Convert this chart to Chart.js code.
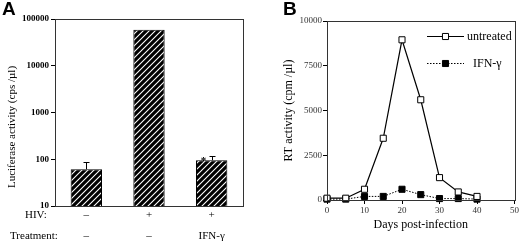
<!DOCTYPE html>
<html>
<head>
<meta charset="utf-8">
<script src="https://cdn.jsdelivr.net/npm/chart.js@4/dist/chart.umd.min.js"></script>
<style>
  body { margin: 0; background: #fff; }
  #wrap { position: relative; width: 520px; height: 245px; overflow: hidden; }
  .panel { position: absolute; top: 0; width: 260px; height: 245px; }
  .tag { position: absolute; font: bold 19px "Liberation Sans", Arial, sans-serif; color: #000; }
</style>
</head>
<body>
<div id="wrap">
  <div class="panel" style="left:0"><canvas id="chartA" width="260" height="245"></canvas></div>
  <div class="panel" style="left:260px"><canvas id="chartB" width="260" height="245"></canvas></div>
  <div class="tag" style="left:2px;top:-2px">A</div>
  <div class="tag" style="left:283px;top:-2px">B</div>
</div>
<script>
// Panel A data
const groupsHIV = ["–", "+", "+"];
const groupsTreatment = ["–", "–", "IFN-γ"];
const luciferase = [61, 59000, 95];
const luciferaseErr = [86, 0, 116];
const luciferaseTicks = [10, 100, 1000, 10000, 100000];

// Panel B data
const days = [0, 5, 10, 15, 20, 25, 30, 35, 40];
const rtUntreated = [100, 100, 600, 3450, 8950, 5600, 1250, 450, 200];
const rtIFN = [50, 50, 200, 200, 600, 300, 80, 80, 50];
const rtTicks = [0, 2500, 5000, 7500, 10000];
const dayTicks = [0, 10, 20, 30, 40, 50];

const serif = "'Liberation Serif', 'Times New Roman', serif";
Chart.defaults.font.family = serif;
Chart.defaults.color = "#000";
Chart.defaults.animation = false;

function hatch() {
  const c = document.createElement("canvas");
  c.width = 6; c.height = 6;
  const g = c.getContext("2d");
  g.fillStyle = "#000";
  g.fillRect(0, 0, 6, 6);
  g.strokeStyle = "#fff";
  g.lineWidth = 1.1;
  g.beginPath();
  g.moveTo(-1, 7); g.lineTo(7, -1);
  g.moveTo(-1, 1); g.lineTo(1, -1);
  g.moveTo(5, 7); g.lineTo(7, 5);
  g.stroke();
  return g.createPattern(c, "repeat");
}

const boxPlugin = {
  id: "box",
  afterDraw(chart) {
    const a = chart.chartArea, ctx = chart.ctx;
    ctx.save();
    ctx.strokeStyle = "#333";
    ctx.lineWidth = 1;
    ctx.strokeRect(Math.round(a.left) + 0.5, Math.round(a.top) + 0.5, Math.round(a.right - a.left), Math.round(a.bottom - a.top));
    ctx.restore();
  }
};

const errPlugin = {
  id: "errbars",
  afterDatasetsDraw(chart) {
    const ctx = chart.ctx, meta = chart.getDatasetMeta(0), y = chart.scales.y, x = chart.scales.x;
    ctx.save();
    ctx.strokeStyle = "#000";
    ctx.lineWidth = 1;
    meta.data.forEach((bar, i) => {
      if (!luciferaseErr[i]) return;
      const top = Math.round(y.getPixelForValue(luciferaseErr[i])) + 0.5;
      const bx = Math.round(bar.x) + 0.5;
      ctx.beginPath();
      ctx.moveTo(bx, bar.y); ctx.lineTo(bx, top);
      ctx.moveTo(bx - 3, top); ctx.lineTo(bx + 3, top);
      ctx.stroke();
      if (i === 2) {
        ctx.font = "bold 11px " + serif;
        ctx.textAlign = "center";
        ctx.textBaseline = "middle";
        ctx.fillStyle = "#000";
        ctx.fillText("*", bx - 9, top + 5);
      }
    });
    // category rows below the axis
    ctx.font = "11px " + serif;
    ctx.textBaseline = "middle";
    ctx.fillStyle = "#000";
    ctx.textAlign = "left";
    ctx.fillText("HIV:", 25, 215);
    ctx.fillText("Treatment:", 10, 236);
    ctx.textAlign = "center";
    groupsHIV.forEach((t, i) => ctx.fillText(t, x.getPixelForValue(i), 215));
    groupsTreatment.forEach((t, i) => ctx.fillText(t, x.getPixelForValue(i), 236));
    // y axis title (sits a little below the axis centre in the original)
    ctx.translate(12, 127);
    ctx.rotate(-Math.PI / 2);
    ctx.fillText("Luciferase activity (cps /µl)", 0, 0);
    ctx.restore();
  }
};

new Chart(document.getElementById("chartA"), {
  type: "bar",
  data: {
    labels: groupsHIV.map((h, i) => h + " " + groupsTreatment[i]),
    datasets: [{
      data: luciferase,
      backgroundColor: hatch(),
      borderColor: "#000",
      borderWidth: 1,
      barPercentage: 0.5,
      categoryPercentage: 1
    }]
  },
  options: {
    responsive: false,
    layout: { padding: { top: 19, right: 17, left: 0, bottom: 0 } },
    plugins: { legend: { display: false }, tooltip: { enabled: false } },
    scales: {
      x: {
        grid: { display: false },
        border: { display: false },
        ticks: { display: false },
        afterFit(s) { s.height = 39; }
      },
      y: {
        type: "logarithmic",
        min: 10,
        max: 100000,
        afterBuildTicks(s) { s.ticks = luciferaseTicks.map(v => ({ value: v })); },
        grid: { drawOnChartArea: false, tickLength: 4, color: "#000" },
        border: { display: false },
        ticks: { font: { size: 9, weight: "bold" }, padding: 2, callback: v => String(v) },
        afterFit(s) { s.width = 55; }
      }
    }
  },
  plugins: [boxPlugin, errPlugin]
});

const legendPlugin = {
  id: "legendB",
  afterDraw(chart) {
    const ctx = chart.ctx;
    ctx.save();
    chart.data.datasets.forEach((ds, i) => {
      const y = Math.round(36 + i * 27) + 0.5;
      ctx.strokeStyle = "#000";
      ctx.lineWidth = ds.borderWidth;
      ctx.setLineDash(ds.borderDash || []);
      ctx.beginPath();
      ctx.moveTo(167, y); ctx.lineTo(204, y);
      ctx.stroke();
      ctx.setLineDash([]);
      ctx.fillStyle = ds.pointBackgroundColor;
      ctx.strokeStyle = "#000";
      ctx.lineWidth = 1;
      Chart.helpers.drawPoint(ctx, { pointStyle: "rect", radius: ds.pointRadius, borderWidth: 1 }, 185.5, y);
      ctx.font = "12px " + serif;
      ctx.fillStyle = "#000";
      ctx.textBaseline = "middle";
      ctx.fillText(ds.label, i === 0 ? 207 : 213, y);
    });
    ctx.restore();
  }
};

new Chart(document.getElementById("chartB"), {
  type: "line",
  data: {
    datasets: [
      {
        label: "untreated",
        data: days.map((d, i) => ({ x: d, y: rtUntreated[i] })),
        borderColor: "#000",
        borderWidth: 1.2,
        pointStyle: "rect",
        pointRadius: 4.3,
        pointBorderWidth: 1,
        pointBorderColor: "#000",
        pointBackgroundColor: "#fff",
        tension: 0
      },
      {
        label: "IFN-γ",
        data: days.map((d, i) => ({ x: d, y: rtIFN[i] })),
        borderColor: "#000",
        borderWidth: 1,
        borderDash: [1.5, 1.5],
        pointStyle: "rect",
        pointRadius: 4.3,
        pointBorderWidth: 1,
        pointBorderColor: "#000",
        pointBackgroundColor: "#000",
        tension: 0
      }
    ]
  },
  options: {
    responsive: false,
    clip: false,
    layout: { padding: { top: 21, right: 5, left: 22, bottom: 13 } },
    plugins: { legend: { display: false }, tooltip: { enabled: false } },
    scales: {
      x: {
        type: "linear",
        min: 0,
        max: 50,
        afterBuildTicks(s) { s.ticks = dayTicks.map(v => ({ value: v })); },
        grid: { drawOnChartArea: false, tickLength: 4, color: "#000" },
        border: { display: false },
        ticks: { font: { size: 9 }, color: "#333", padding: 1, maxRotation: 0 },
        title: { display: true, text: "Days post-infection", font: { size: 12 }, padding: 0 },
        afterFit(s) { s.height = 32; }
      },
      y: {
        min: 0,
        max: 10000,
        afterBuildTicks(s) { s.ticks = rtTicks.map(v => ({ value: v })); },
        grid: { drawOnChartArea: false, tickLength: 4, color: "#000" },
        border: { display: false },
        ticks: { font: { size: 9 }, color: "#333", padding: 1, callback: v => String(v) },
        title: { display: true, text: "RT activity (cpm /µl)", font: { size: 12 }, padding: 0 },
        afterFit(s) { s.width = 45; }
      }
    }
  },
  plugins: [boxPlugin, legendPlugin]
});
</script>
</body>
</html>
